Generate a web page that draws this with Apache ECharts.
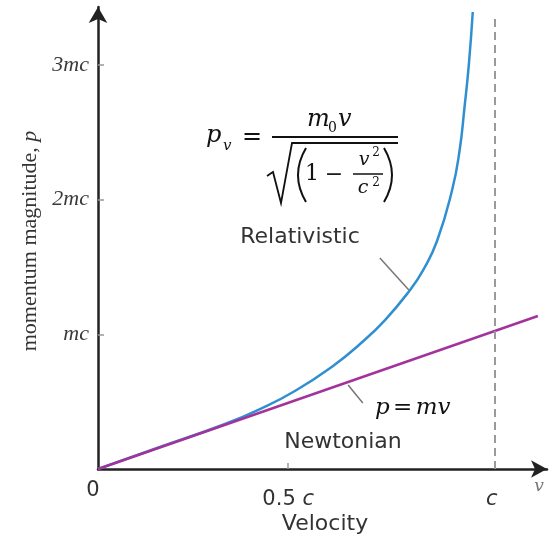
<!DOCTYPE html>
<html>
<head>
<meta charset="utf-8">
<script src="https://cdn.jsdelivr.net/npm/echarts@6/dist/echarts.min.js"></script>
<style>
html,body{margin:0;padding:0;background:#fff;}
#chart{width:552px;height:543px;}
</style>
</head>
<body>
<div id="chart"></div>
<script>
// velocity (in units of c)
var relVelocity = [0, 0.156, 0.320, 0.408, 0.496, 0.592, 0.660, 0.723, 0.786, 0.819, 0.854, 0.892, 0.911, 0.923, 0.934, 0.944];
// relativistic momentum (in units of mc)
var relMomentum = [0, 0.163, 0.334, 0.445, 0.579, 0.765, 0.928, 1.106, 1.329, 1.477, 1.693, 2.071, 2.368, 2.680, 2.999, 3.393];
// Newtonian p = mv
var newtVelocity = [0, 1.108];
var newtMomentum = [0, 1.136];
// tick labels
var xTickValues = [0, 0.479, 0.992];
var xTickLabels = ['0', '0.5 c', 'c'];
var xTickMarks = [0.479, 1];
var yTickValues = [1, 2, 3];
var yTickLabels = ['mc', '2mc', '3mc'];
var speedOfLight = 1;
var cLineTop = 3.37;

function pairs(xs, ys){ return xs.map(function(x,i){ return [x, ys[i]]; }); }

var chart = echarts.init(document.getElementById('chart'), null, {renderer:'canvas'});
var axisColor = '#222';
var serif = '"DejaVu Serif"';
var sans = '"DejaVu Sans"';

var option = {
  animation: false,
  backgroundColor: '#fff',
  grid: {left: 98, right: 5, top: 7, bottom: 74, containLabel: false},
  xAxis: {
    type: 'value', min: 0, max: 1.131,
    splitLine: {show: false},
    axisLine: {show: true, lineStyle: {color: axisColor, width: 2.5}, symbol: ['none', 'arrow'], symbolSize: [13, 16]},
    axisTick: {show: true, inside: true, length: 6, lineStyle: {color: '#999', width: 1.5}, customValues: xTickMarks},
    axisLabel: {
      show: true, margin: 10, customValues: xTickValues,
      formatter: function(v){
        var i = xTickValues.indexOf(v);
        var t = i >= 0 ? xTickLabels[i] : '';
        if (t === '0') return '{z|0}';
        if (t === 'c') return '{c|c}';
        return '{n|0.5 }{c|c}';
      },
      rich: {
        z: {fontFamily: sans, fontSize: 21, color: '#333', padding: [0, 10, 0, 0], lineHeight: 24},
        n: {fontFamily: sans, fontSize: 21, color: '#333', lineHeight: 31, verticalAlign: 'bottom'},
        c: {fontFamily: sans, fontSize: 21, fontStyle: 'italic', color: '#333', lineHeight: 31, verticalAlign: 'bottom'}
      }
    }
  },
  yAxis: {
    type: 'value', min: 0, max: 3.43,
    splitLine: {show: false},
    axisLine: {show: true, lineStyle: {color: axisColor, width: 2.5}, symbol: ['none', 'arrow'], symbolSize: [14, 16]},
    axisTick: {show: true, inside: true, length: 6, lineStyle: {color: '#999', width: 1.5}, customValues: yTickValues},
    axisLabel: {
      show: true, margin: 9, customValues: yTickValues,
      fontFamily: '"Liberation Serif"', fontStyle: 'italic', fontSize: 22, color: '#3a3a3a',
      formatter: function(v){ var i = yTickValues.indexOf(v); return i >= 0 ? yTickLabels[i] : ''; }
    }
  },
  series: [
    {
      name: 'Relativistic', type: 'line', smooth: 0.5, showSymbol: false,
      data: pairs(relVelocity, relMomentum),
      lineStyle: {color: '#2f8fd0', width: 2.5}, itemStyle: {color: '#2f8fd0'},
      z: 3,
      markLine: {
        silent: true, symbol: ['none', 'none'], label: {show: false},
        lineStyle: {color: '#777', width: 1.5, type: 'solid'},
        data: [[{coord: [0.710, 1.566]}, {coord: [0.783, 1.329]}]]
      }
    },
    {
      name: 'Newtonian', type: 'line', showSymbol: false,
      data: pairs(newtVelocity, newtMomentum),
      lineStyle: {color: '#a3339b', width: 2.5}, itemStyle: {color: '#a3339b'},
      z: 4,
      markLine: {
        silent: true, symbol: ['none', 'none'], label: {show: false},
        data: [
          [{coord: [0.630, 0.624], lineStyle: {color: '#777', width: 1.5, type: 'solid'}},
           {coord: [0.667, 0.490]}],
          [{coord: [speedOfLight, 0], lineStyle: {color: '#9a9a9a', width: 2, type: [8, 5]}},
           {coord: [speedOfLight, cLineTop]}]
        ]
      }
    }
  ],
  graphic: [
    // axis names
    {type: 'text', x: 325, y: 524, style: {text: 'Velocity', fontFamily: sans, fontSize: 22, fill: '#333', align: 'center', verticalAlign: 'middle'}},
    {type: 'text', x: 539, y: 487, style: {text: 'v', fontFamily: serif, fontStyle: 'italic', fontSize: 17, fill: '#777', align: 'center', verticalAlign: 'middle'}},
    {type: 'text', x: 30, y: 241, rotation: Math.PI / 2, style: {
      text: '{n|momentum magnitude, }{i|p}', align: 'center', verticalAlign: 'middle',
      rich: {
        n: {fontFamily: '"Liberation Serif"', fontSize: 22, fill: '#333'},
        i: {fontFamily: '"Liberation Serif"', fontStyle: 'italic', fontSize: 22, fill: '#333'}
      }}},
    // series labels
    {type: 'text', x: 300, y: 237, style: {text: 'Relativistic', fontFamily: sans, fontSize: 22, fill: '#333', align: 'center', verticalAlign: 'middle'}},
    {type: 'text', x: 343, y: 442, style: {text: 'Newtonian', fontFamily: sans, fontSize: 22, fill: '#333', align: 'center', verticalAlign: 'middle'}},
    // p = mv
    {type: 'text', x: 375, y: 408, style: {
      text: '{i|p} {n|=} {i|mv}', align: 'left', verticalAlign: 'middle',
      rich: {
        i: {fontFamily: serif, fontStyle: 'italic', fontSize: 23, fill: '#111'},
        n: {fontFamily: serif, fontSize: 23, fill: '#111'}
      }}},
    // formula p_v = m0 v / sqrt((1 - v^2/c^2))
    {type: 'text', x: 206, y: 136, style: {text: 'p', fontFamily: serif, fontStyle: 'italic', fontSize: 24, fill: '#111', align: 'left', verticalAlign: 'middle'}},
    {type: 'text', x: 223, y: 146, style: {text: 'v', fontFamily: serif, fontStyle: 'italic', fontSize: 15, fill: '#111', align: 'left', verticalAlign: 'middle'}},
    {type: 'text', x: 252, y: 138, style: {text: '=', fontFamily: serif, fontSize: 24, fill: '#111', align: 'center', verticalAlign: 'middle'}},
    {type: 'text', x: 307, y: 120, style: {text: 'm', fontFamily: serif, fontStyle: 'italic', fontSize: 24, fill: '#111', align: 'left', verticalAlign: 'middle'}},
    {type: 'text', x: 328, y: 128, style: {text: '0', fontFamily: serif, fontSize: 14, fill: '#111', align: 'left', verticalAlign: 'middle'}},
    {type: 'text', x: 338, y: 120, style: {text: 'v', fontFamily: serif, fontStyle: 'italic', fontSize: 24, fill: '#111', align: 'left', verticalAlign: 'middle'}},
    {type: 'line', shape: {x1: 272, y1: 137, x2: 398, y2: 137}, style: {stroke: '#111', lineWidth: 2}},
    {type: 'polyline', shape: {points: [[267, 176], [273, 172], [281, 203], [292, 143], [398, 143]]}, style: {stroke: '#111', lineWidth: 1.8, fill: null}},
    {type: 'bezierCurve', shape: {x1: 306, y1: 148, cpx1: 290, cpy1: 175, x2: 306, y2: 202}, style: {stroke: '#111', lineWidth: 2, fill: null}},
    {type: 'bezierCurve', shape: {x1: 384, y1: 148, cpx1: 400, cpy1: 175, x2: 384, y2: 202}, style: {stroke: '#111', lineWidth: 2, fill: null}},
    {type: 'text', x: 312, y: 174, style: {text: '1', fontFamily: serif, fontSize: 22, fill: '#111', align: 'center', verticalAlign: 'middle'}},
    {type: 'text', x: 334, y: 175, style: {text: '\u2212', fontFamily: serif, fontSize: 22, fill: '#111', align: 'center', verticalAlign: 'middle'}},
    {type: 'text', x: 364, y: 160, style: {text: 'v', fontFamily: serif, fontStyle: 'italic', fontSize: 19, fill: '#111', align: 'center', verticalAlign: 'middle'}},
    {type: 'text', x: 376, y: 153, style: {text: '2', fontFamily: serif, fontSize: 12, fill: '#111', align: 'center', verticalAlign: 'middle'}},
    {type: 'line', shape: {x1: 353, y1: 174, x2: 383, y2: 174}, style: {stroke: '#111', lineWidth: 1.5}},
    {type: 'text', x: 363, y: 188, style: {text: 'c', fontFamily: serif, fontStyle: 'italic', fontSize: 19, fill: '#111', align: 'center', verticalAlign: 'middle'}},
    {type: 'text', x: 376, y: 183, style: {text: '2', fontFamily: serif, fontSize: 12, fill: '#111', align: 'center', verticalAlign: 'middle'}}
  ]
};
chart.setOption(option);
</script>
</body>
</html>
